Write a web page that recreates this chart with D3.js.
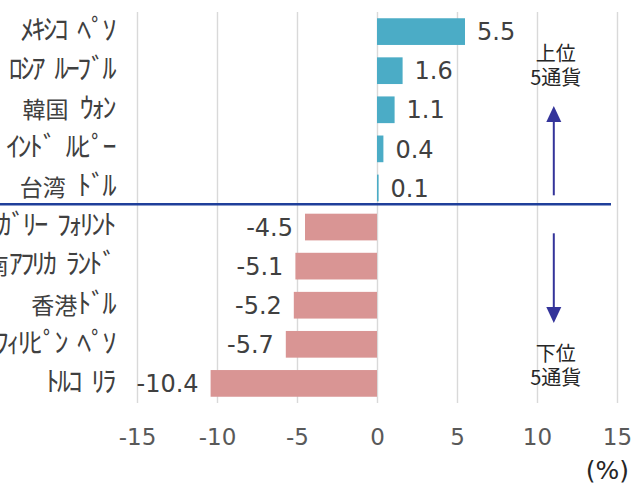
<!DOCTYPE html>
<html>
<head>
<meta charset="utf-8">
<script src="https://cdn.jsdelivr.net/npm/d3@7"></script>
<style>
  body { margin: 0; background: #fff; }
  svg { display: block; }
</style>
</head>
<body>
<svg id="chart" width="631" height="484"></svg>
<script>
// currencies, ordered top to bottom
let categories = ["ﾒｷｼｺ ﾍﾟｿ", "ﾛｼｱ ﾙｰﾌﾞﾙ", "韓国 ｳｫﾝ", "ｲﾝﾄﾞ ﾙﾋﾟｰ", "台湾 ﾄﾞﾙ",
  "ﾊﾝｶﾞﾘｰ ﾌｫﾘﾝﾄ", "南ｱﾌﾘｶ ﾗﾝﾄﾞ", "香港ﾄﾞﾙ", "ﾌｨﾘﾋﾟﾝ ﾍﾟｿ", "ﾄﾙｺ ﾘﾗ"];
let values = [5.5, 1.6, 1.1, 0.4, 0.1, -4.5, -5.1, -5.2, -5.7, -10.4];
let xTicks = [-15, -10, -5, 0, 5, 10, 15];

let plot = { left: 137, right: 617, top: 12, bottom: 403 };

let numFont = "'DejaVu Sans', Verdana, sans-serif";
let jpFont = "'Noto Sans CJK JP', sans-serif";

let xScale = d3.scaleLinear().domain([-15, 15]).range([plot.left, plot.right]);
let yScale = d3.scaleBand().domain(categories).range([plot.top, plot.bottom])
  .paddingInner(0.317).paddingOuter(0.16);

let svg = d3.select("#chart");

// grid + tick labels
let xAxis = d3.axisBottom(xScale)
  .tickValues(xTicks)
  .tickSize(-(plot.bottom - plot.top))
  .tickPadding(26)
  .tickFormat(function(d) { return String(d); });

let axisG = svg.append("g")
  .attr("transform", "translate(0," + plot.bottom + ")")
  .call(xAxis);
axisG.select(".domain").remove();
axisG.selectAll(".tick line")
  .style("stroke", "#d9d9d9")
  .style("stroke-width", 1.4);
axisG.selectAll(".tick text")
  .style("font-family", numFont)
  .style("font-size", "23px")
  .style("fill", "#595959");

// bars
svg.selectAll(".bar")
  .data(values)
  .enter()
  .append("rect")
  .attr("class", "bar")
  .attr("x", function(d) { return xScale(Math.min(0, d)); })
  .attr("y", function(d, i) { return yScale(categories[i]); })
  .attr("width", function(d) { return Math.abs(xScale(d) - xScale(0)); })
  .attr("height", yScale.bandwidth())
  .style("fill", function(d) { return d >= 0 ? "#4bacc6" : "#d99594"; });

// value labels
svg.selectAll(".val")
  .data(values)
  .enter()
  .append("text")
  .attr("class", "val")
  .attr("x", function(d) { return d >= 0 ? xScale(d) + 12 : xScale(d) - 12; })
  .attr("y", function(d, i) { return yScale(categories[i]) + yScale.bandwidth() / 2; })
  .attr("dy", "0.36em")
  .attr("text-anchor", function(d) { return d >= 0 ? "start" : "end"; })
  .style("font-family", numFont)
  .style("font-size", "24px")
  .style("fill", "#404040")
  .text(function(d) { return d.toFixed(1); });

// category labels: half-width kana drawn taller but kept at half-width pitch
function splitRuns(s) {
  let runs = [];
  for (let ch of s) {
    let half = /[\uFF61-\uFF9F ]/.test(ch);
    if (runs.length && runs[runs.length - 1].half === half) runs[runs.length - 1].t += ch;
    else runs.push({ half: half, t: ch });
  }
  return runs;
}

let catText = svg.selectAll(".cat")
  .data(categories)
  .enter()
  .append("text")
  .attr("class", "cat")
  .attr("x", 114)
  .attr("y", function(d) { return yScale(d) + yScale.bandwidth() / 2; })
  .attr("dy", "0.36em")
  .attr("text-anchor", "end")
  .style("font-family", jpFont)
  .style("font-size", "23px")
  .style("fill", "#404040");

catText.selectAll("tspan")
  .data(function(d) { return splitRuns(d); })
  .enter()
  .append("tspan")
  .style("font-size", function(r) { return r.half ? "28px" : "23px"; })
  .style("letter-spacing", function(r) { return r.half ? "-2.6px" : "0px"; })
  .text(function(r) { return r.half ? r.t.replace(/ /g, "\u2002") : r.t; });

// divider between top 5 and bottom 5
let divY = yScale(categories[4]) + yScale.bandwidth() + 3;
svg.append("line")
  .attr("x1", 0).attr("x2", 611)
  .attr("y1", divY).attr("y2", divY)
  .style("stroke", "#1f3f9a")
  .style("stroke-width", 2.5);

// arrows
let ax = xScale(11.05);
let arrowColor = "#34349a";
function arrow(yFrom, yTip) {
  let dir = yTip < yFrom ? -1 : 1;
  let headLen = 16, headW = 7.5;
  svg.append("line")
    .attr("x1", ax).attr("x2", ax)
    .attr("y1", yFrom).attr("y2", yTip - dir * headLen)
    .style("stroke", arrowColor)
    .style("stroke-width", 2);
  svg.append("path")
    .attr("d", "M" + ax + "," + yTip +
      "L" + (ax - headW) + "," + (yTip - dir * headLen) +
      "L" + (ax + headW) + "," + (yTip - dir * headLen) + "Z")
    .style("fill", arrowColor);
}
arrow(divY - 9, 106);
arrow(divY + 29, 323);

// annotation texts
function note(lines, yCenter) {
  let t = svg.append("text")
    .attr("text-anchor", "middle")
    .style("font-family", jpFont)
    .style("font-size", "20px")
    .style("fill", "#262626");
  lines.forEach(function(s, i) {
    t.append("tspan")
      .attr("x", ax + 2)
      .attr("y", yCenter + i * 23.5)
      .attr("dy", "0.36em")
      .text(s);
  });
}
note(["上位", "5通貨"], 54);
note(["下位", "5通貨"], 354);

svg.append("text")
  .attr("x", 629)
  .attr("y", 470)
  .attr("dy", "0.36em")
  .attr("text-anchor", "end")
  .style("font-family", numFont)
  .style("font-size", "25px")
  .style("fill", "#262626")
  .text("(%)");
</script>
</body>
</html>
